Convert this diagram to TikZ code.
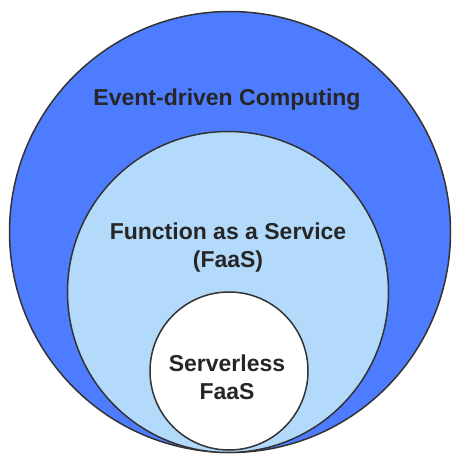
\documentclass[tikz,border=0pt]{standalone}
\usepackage{fontspec}
\setmainfont{Liberation Sans}
\definecolor{outerblue}{HTML}{4D7CFE}
\definecolor{midblue}{HTML}{B3DAFB}
\definecolor{ringline}{HTML}{333333}
\begin{document}
\begin{tikzpicture}[x=1pt,y=-1pt,
  ring/.style={circle,draw=ringline,line width=1.5pt,inner sep=0pt},
  lbl/.style={font=\fontsize{23}{28}\selectfont\bfseries,text=black!85,align=center}]
\useasboundingbox (0,0) rectangle (460,457);
\node[ring,fill=outerblue,minimum size=441pt] (outer) at (230,232) {};
\node[ring,fill=midblue,minimum size=321pt] (mid) at (228,292) {};
\node[ring,fill=white,minimum size=158pt] (inner) at (229,371) {};
\node[lbl] (t1) at (227,100) {Event-driven Computing};
\node[lbl] (t2) at (228,248) {Function as a Service\\(FaaS)};
\node[lbl] (t3) at (227,377) {Serverless\\FaaS};
\end{tikzpicture}
\end{document}
